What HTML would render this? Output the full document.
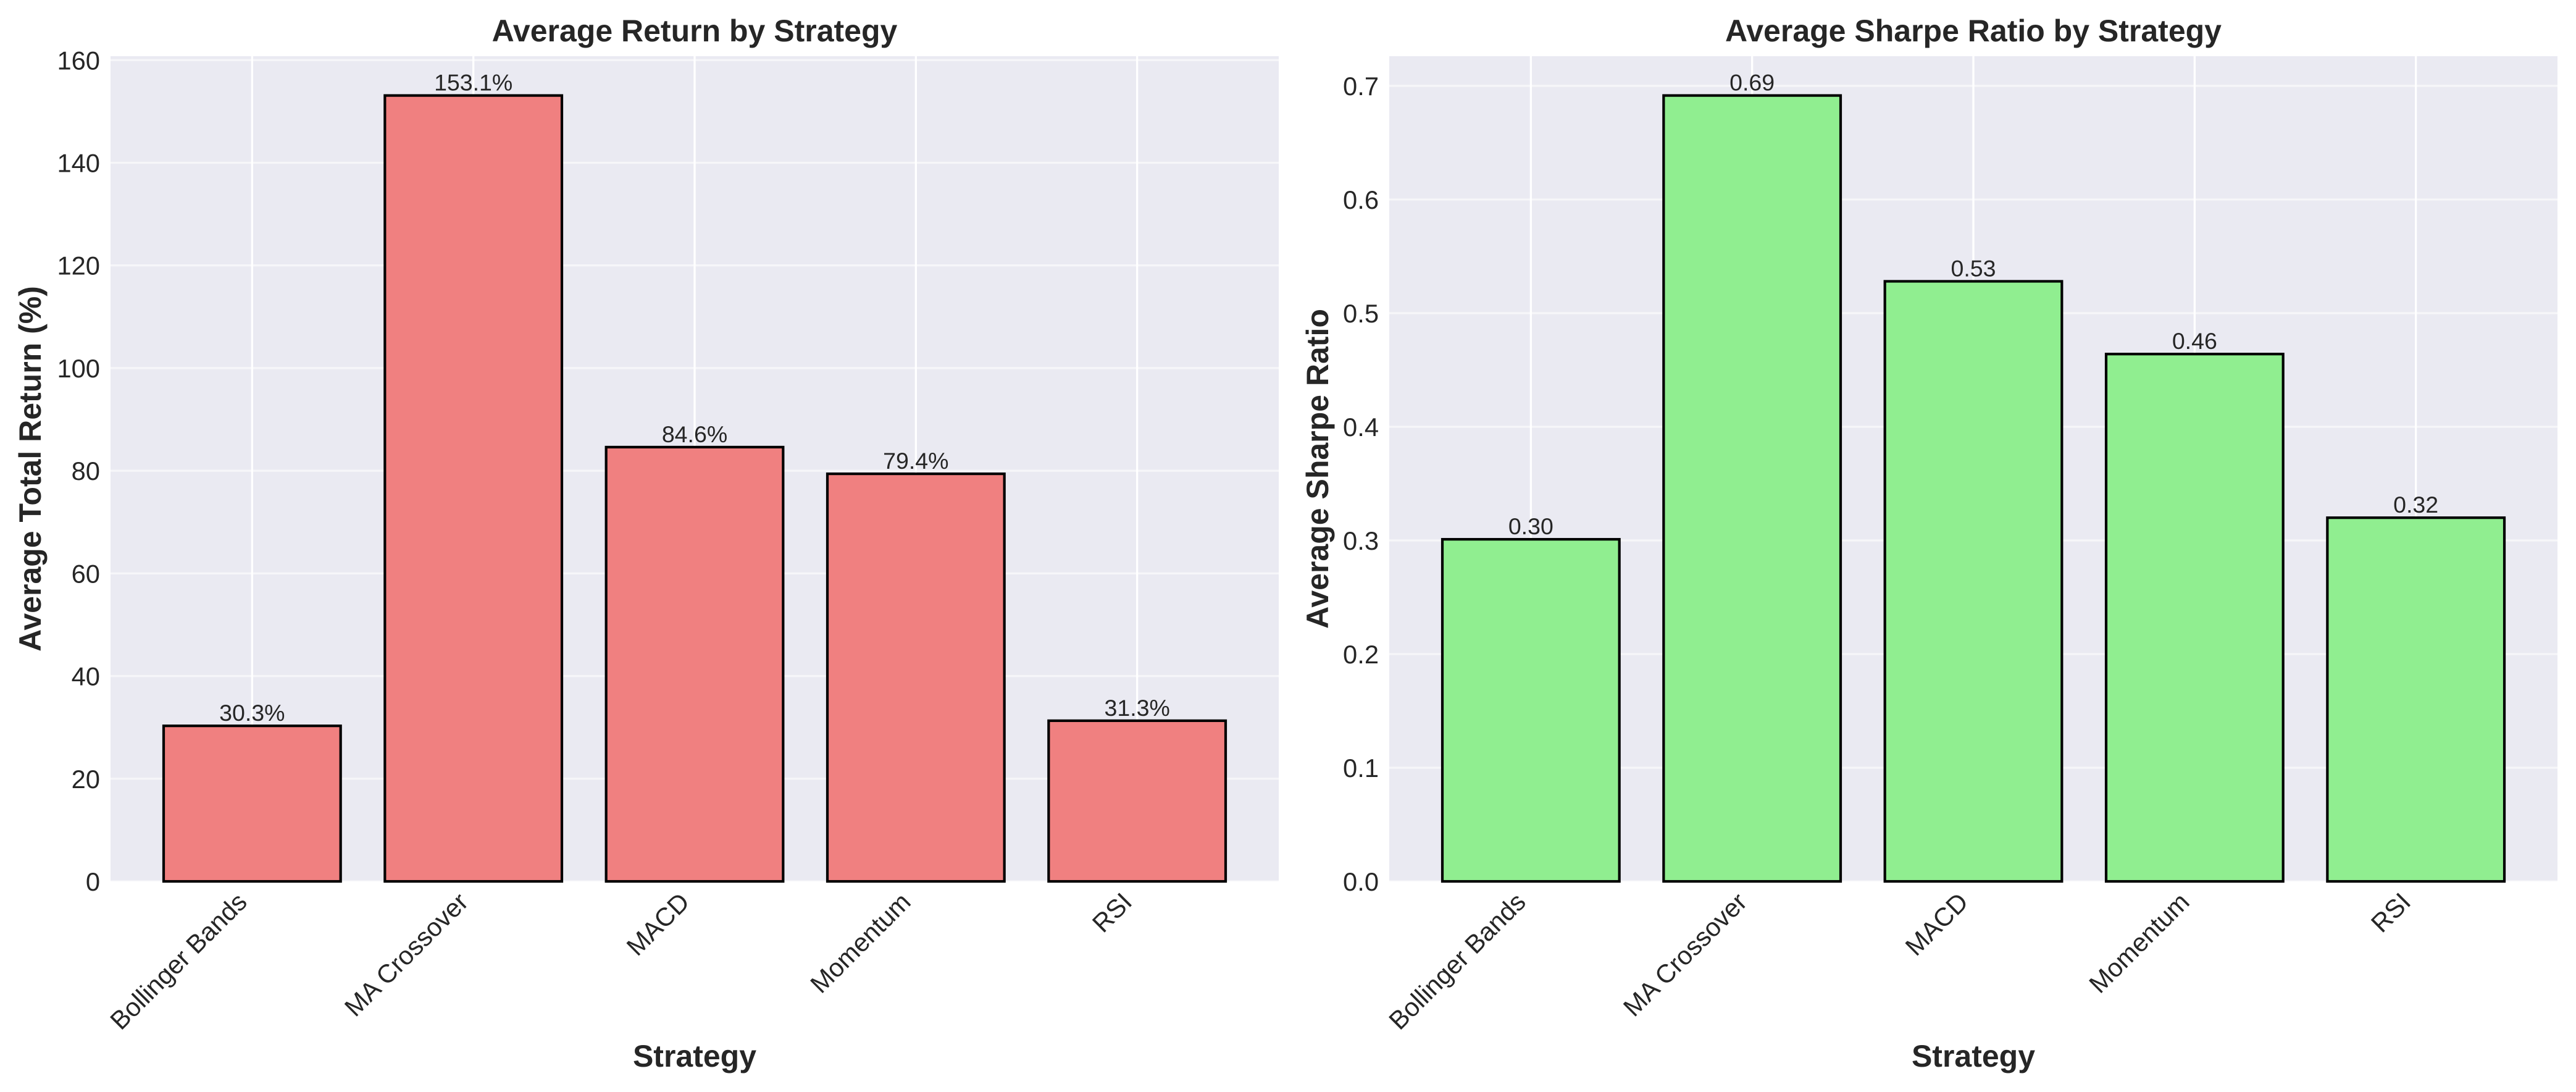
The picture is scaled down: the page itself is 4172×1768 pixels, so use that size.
<!DOCTYPE html>
<html><head><meta charset="utf-8"><style>
html,body{margin:0;padding:0;background:#fff;}
svg{display:block;font-family:"Liberation Sans",Arial,sans-serif;}
</style></head><body>
<svg id="fig" width="4172" height="1768" viewBox="0 0 4172 1768" xmlns="http://www.w3.org/2000/svg"></svg>
<script>
const categories = ["Bollinger Bands","MA Crossover","MACD","Momentum","RSI"];
const returnValues = [30.3,153.1,84.6,79.4,31.3];
const sharpeValues = [0.301,0.6915,0.528,0.464,0.320];
const returnTicks = [0,20,40,60,80,100,120,140,160];
const sharpeTicks = [0,0.1,0.2,0.3,0.4,0.5,0.6,0.7];

const NS="http://www.w3.org/2000/svg";
const svg=document.getElementById('fig');
function mk(tag,attrs,parent){const e=document.createElementNS(NS,tag);for(const k in attrs)e.setAttribute(k,attrs[k]);(parent||svg).appendChild(e);return e;}

function panel(opt){
  const g=mk('g',{});
  
  
  const L=opt.left,R=opt.right,T=91,B=1427;
  const n=categories.length;
  const xmin=-0.64,xmax=n-1+0.64;
  const ymax=Math.max(...opt.values)*1.05;
  const xs=v=>L+(v-xmin)/(xmax-xmin)*(R-L);
  const ys=v=>B-v/ymax*(B-T);
  const bg=mk('rect',{x:L,y:T,width:R-L,height:B-T,fill:'#eaeaf2'},g);
  
  
  opt.ticks.forEach(t=>{
    const y=ys(t);
    const gl=mk('line',{x1:L,x2:R,y1:y,y2:y,stroke:'#ffffff','stroke-opacity':0.55,'stroke-width':3.3},g);
    
    
    const tl=mk('text',{x:L-17,y:y+15,'text-anchor':'end','font-size':41.7,fill:'#262626'},g);
    tl.textContent=opt.fmtTick(t);
    
    
  });
  categories.forEach((c,i)=>{
    const x=xs(i);
    const gl=mk('line',{x1:x,x2:x,y1:T,y2:B,stroke:'#ffffff','stroke-width':3.3},g);
    
    
  });
  const bw=0.8*(xs(1)-xs(0));
  opt.values.forEach((v,i)=>{
    const x=xs(i);
    const b=mk('rect',{x:x-bw/2,y:ys(v),width:bw,height:B-ys(v),fill:opt.color,stroke:'#000','stroke-width':4.2},g);
    
    
    const vl=mk('text',{x:x,y:ys(v)-8,'text-anchor':'middle','font-size':37.5,fill:'#262626'},g);
    vl.textContent=opt.fmtVal(v);
    
    
    const px=x-6,py=1463;
    const xl=mk('text',{x:px,y:py,'text-anchor':'end','font-size':41.7,fill:'#262626',transform:`rotate(-45 ${px} ${py})`},g);
    xl.textContent=categories[i];
    
    
  });
  const cx=(L+R)/2;
  const ti=mk('text',{x:cx,y:67,'text-anchor':'middle','font-size':50,'font-weight':'bold',fill:'#262626'},g);
  ti.textContent=opt.title;
  
  
  const xt=mk('text',{x:cx,y:1727,'text-anchor':'middle','font-size':50,'font-weight':'bold',fill:'#262626'},g);
  xt.textContent='Strategy';
  
  
  const cy=(T+B)/2;
  const yt=mk('text',{x:opt.ylabX,y:cy,'text-anchor':'middle','font-size':50,'font-weight':'bold',fill:'#262626',transform:`rotate(-90 ${opt.ylabX} ${cy})`},g);
  yt.textContent=opt.ylabel;
  
  
}
panel({name:'return-chart',left:179,right:2071,values:returnValues,ticks:returnTicks,color:'#f08080',
  fmtTick:t=>String(t),fmtVal:v=>v.toFixed(1)+'%',title:'Average Return by Strategy',ylabel:'Average Total Return (%)',ylabX:66});
panel({name:'sharpe-chart',left:2250,right:4142,values:sharpeValues,ticks:sharpeTicks,color:'#90ee90',
  fmtTick:t=>t.toFixed(1),fmtVal:v=>v.toFixed(2),title:'Average Sharpe Ratio by Strategy',ylabel:'Average Sharpe Ratio',ylabX:2151});
</script>
</body></html>
